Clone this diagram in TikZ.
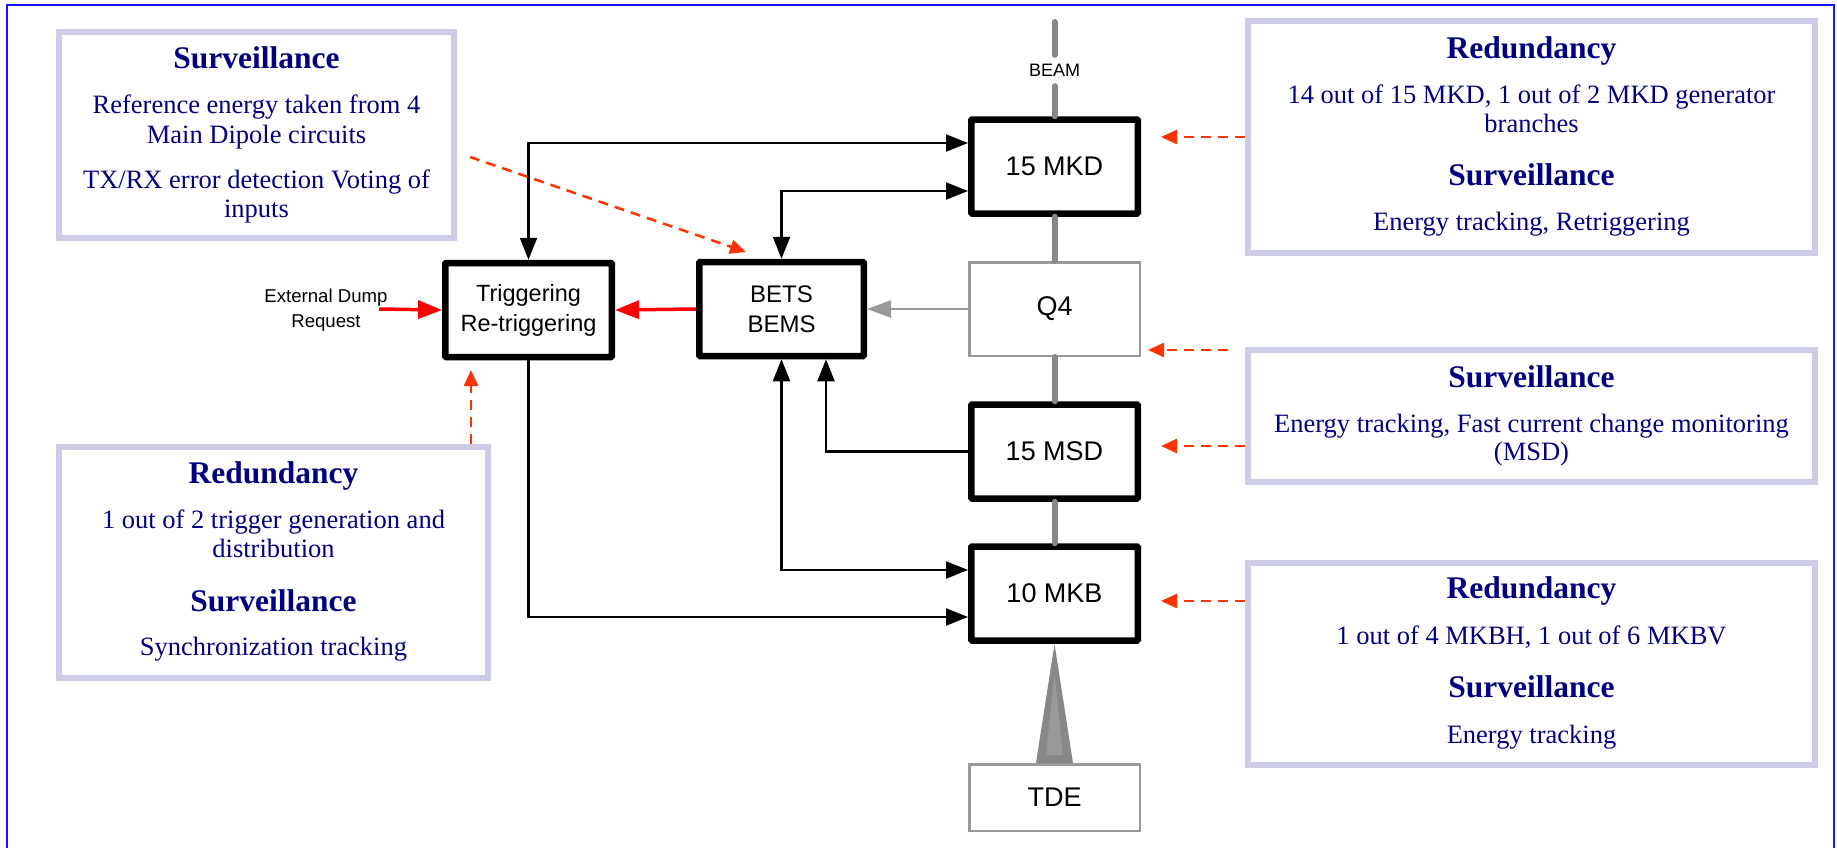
\documentclass[tikz,border=0pt]{standalone}
\usepackage{fontspec}
\setmainfont{Liberation Serif}
\newfontfamily\arialf{Liberation Sans}
\usetikzlibrary{arrows.meta}
\definecolor{navy}{RGB}{0,0,128}
\definecolor{lav}{RGB}{204,204,230}
\definecolor{dashred}{RGB}{255,51,0}
\definecolor{beamgray}{RGB}{136,136,136}
\definecolor{boxgray}{RGB}{153,153,153}
\definecolor{frameblue}{RGB}{20,20,255}
\tikzset{
  kbox/.style={draw=black, line width=6.5pt, fill=white, minimum width=166.5pt, minimum height=94pt,
    inner sep=0pt, rounded corners=1pt, align=center, font=\arialf\fontsize{27}{31}\selectfont},
  gbox/.style={draw=boxgray, line width=2.5pt, fill=white, minimum width=170.5pt, minimum height=93.5pt,
    inner sep=0pt, align=center, font=\arialf\fontsize{27}{31}\selectfont},
  infobox/.style={draw=lav, line width=6pt, fill=white, inner sep=0pt},
  head/.style={anchor=base, inner sep=0pt, text=navy, font=\bfseries\fontsize{31.5}{36}\selectfont},
  body/.style={anchor=base, inner sep=0pt, text=navy, font=\fontsize{26.5}{29}\selectfont},
  beam/.style={draw=beamgray, line width=6pt, line cap=round},
  blk/.style={draw=black, line width=2.2pt, -{Triangle[length=22pt,width=17pt]}},
  blkboth/.style={draw=black, line width=2.2pt, {Triangle[length=22pt,width=17pt]}-{Triangle[length=22pt,width=17pt]}},
  redarr/.style={draw=red, line width=3.5pt, -{Triangle[length=24pt,width=18pt]}},
  grayarr/.style={draw=boxgray, line width=2.5pt, -{Triangle[length=24pt,width=17pt]}},
  dasharr/.style={draw=dashred, line width=2.5pt, dash pattern=on 10pt off 7pt, -{Triangle[length=16pt,width=14pt]}},
}
\begin{document}
\begin{tikzpicture}[x=1pt,y=-1pt]
\useasboundingbox (0,0) rectangle (1837,847);
\fill[white] (0,0) rectangle (1837,847);
\draw[frameblue, line width=2.5pt] (7,870) -- (7,5) -- (1834,5) -- (1834,870);

% information boxes
\node[infobox, minimum width=395pt, minimum height=206pt] (tl) at (256.5,135) {};
\node[head] (tlh) at (256.5,68) {Surveillance};
\node[body] (tl1) at (256.5,113) {Reference energy taken from 4};
\node[body] (tl2) at (256.5,143) {Main Dipole circuits};
\node[body] (tl3) at (256.5,188) {TX/RX error detection Voting of};
\node[body] (tl4) at (256.5,217) {inputs};

\node[infobox, minimum width=429pt, minimum height=231pt] (bl) at (273.5,562.5) {};
\node[head] (blh1) at (273.5,483) {Redundancy};
\node[body] (bl1) at (273.5,528) {1 out of 2 trigger generation and};
\node[body] (bl2) at (273.5,557) {distribution};
\node[head] (blh2) at (273.5,611) {Surveillance};
\node[body] (bl3) at (273.5,655) {Synchronization tracking};

\node[infobox, minimum width=567pt, minimum height=232pt] (tr) at (1531.5,137) {};
\node[head] (trh1) at (1531.5,58) {Redundancy};
\node[body] (tr1) at (1531.5,103) {14 out of 15 MKD, 1 out of 2 MKD generator};
\node[body] (tr2) at (1531.5,132) {branches};
\node[head] (trh2) at (1531.5,185) {Surveillance};
\node[body] (tr3) at (1531.5,230) {Energy tracking, Retriggering};

\node[infobox, minimum width=567pt, minimum height=132pt] (mr) at (1531.5,416) {};
\node[head] (mrh) at (1531.5,387) {Surveillance};
\node[body] (mr1) at (1531.5,432) {Energy tracking, Fast current change monitoring};
\node[body] (mr2) at (1531.5,460) {(MSD)};

\node[infobox, minimum width=567pt, minimum height=202pt] (br) at (1531.5,664) {};
\node[head] (brh1) at (1531.5,598) {Redundancy};
\node[body] (br1) at (1531.5,644) {1 out of 4 MKBH, 1 out of 6 MKBV};
\node[head] (brh2) at (1531.5,697) {Surveillance};
\node[body] (br2) at (1531.5,743) {Energy tracking};

% beam column
\coordinate (beamtop) at (1054.5,22);
\node[inner sep=0pt, minimum height=31pt, font=\arialf\fontsize{18}{20}\selectfont] (beamlbl) at (1054.5,70.5) {BEAM};

\node[kbox] (mkd) at (1054.5,166.5) {15 MKD};
\node[gbox] (q4) at (1054.5,309) {Q4};
\node[kbox] (msd) at (1054.5,451.5) {15 MSD};
\node[kbox] (mkb) at (1054.5,593.5) {10 MKB};
\node[gbox, minimum height=66.5pt] (tde) at (1054.5,797.5) {TDE};

\draw[beam] (beamtop) -- (beamlbl.north);
\draw[beam] (beamlbl.south) -- (mkd.north);
\draw[beam] (mkd.south) -- (q4.north);
\draw[beam] (q4.south) -- (msd.north);
\draw[beam] (msd.south) -- (mkb.north);
\fill[beamgray] (mkb.south) -- ([xshift=18.5pt]tde.north) -- ([xshift=-18.5pt]tde.north) -- cycle;
\fill[boxgray] ([yshift=-30pt]mkb.south) -- ([xshift=8.5pt,yshift=8pt]tde.north) -- ([xshift=-8.5pt,yshift=8pt]tde.north) -- cycle;

% control boxes
\node[kbox, font=\arialf\fontsize{23.5}{30}\selectfont] (trig) at (528.5,310) {Triggering\\Re-triggering};
\node[kbox, minimum width=164.5pt, font=\arialf\fontsize{24}{30}\selectfont] (bets) at (781.5,309) {BETS\\BEMS};

\node[inner sep=0pt, align=center, font=\arialf\fontsize{18.6}{25}\selectfont] (ext) at (326,310) {External Dump\\Request};
\coordinate (extstart) at (379,309);

% connectors
\draw[blkboth] (trig.north) |- (mkd.west |- 0,143);
\draw[blkboth] (bets.north) |- (mkd.west |- 0,191);
\draw[redarr] (bets.west) -- (trig.east);
\draw[redarr] (extstart) -- (trig.west);
\draw[grayarr] (q4.west) -- (bets.east);
\draw[blk] (msd.west) -| (bets.south -| 826,0);
\draw[blkboth] (bets.south) |- (mkb.west |- 0,570);
\draw[blk] (trig.south) |- (mkb.west |- 0,617);

% dashed pointers
\coordinate (tla) at (470,157);
\coordinate (tlb) at (746,252);
\coordinate (bltip) at (471,370);
\coordinate (trtip) at (1161,137);
\coordinate (q4a) at (1228,350);
\coordinate (q4tip) at (1148,350);
\coordinate (msdtip) at (1161,446);
\coordinate (mkbtip) at (1161,601);
\draw[dasharr] (tla) -- (tlb);
\draw[dasharr] (bl.north -| 471,0) -- (bltip);
\draw[dasharr] (tr.west |- 0,137) -- (trtip);
\draw[dasharr] (q4a) -- (q4tip);
\draw[dasharr] (mr.west |- 0,446) -- (msdtip);
\draw[dasharr] (br.west |- 0,601) -- (mkbtip);
\end{tikzpicture}
\end{document}
